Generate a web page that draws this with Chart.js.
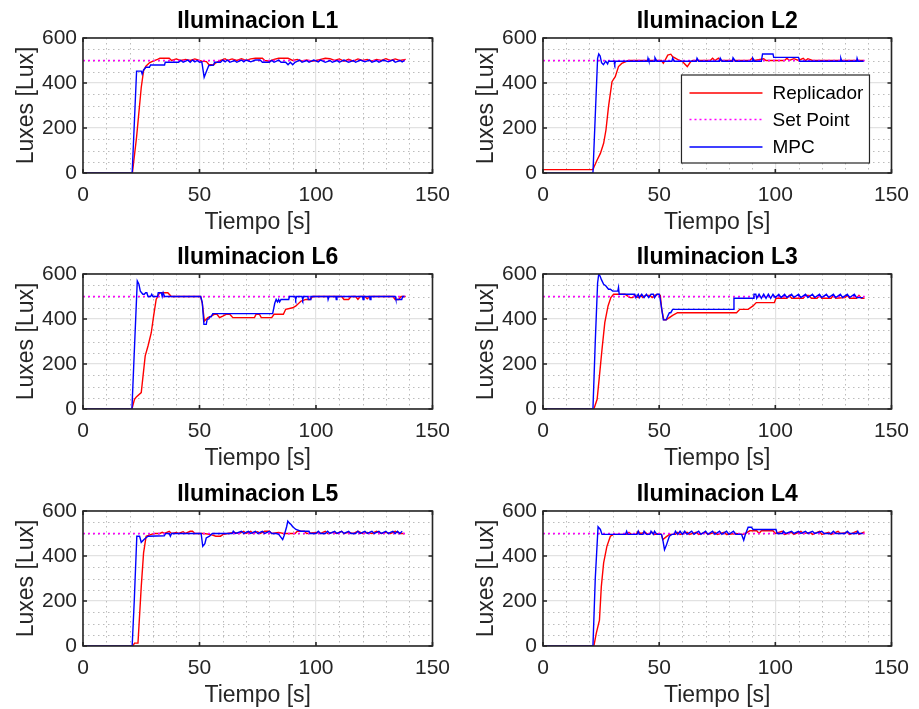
<!DOCTYPE html>
<html>
<head>
<meta charset="utf-8">
<script src="https://cdn.jsdelivr.net/npm/chart.js@4.4.1/dist/chart.umd.min.js"></script>
<style>
  body { margin: 0; background: #fff; }
  #wrap { position: relative; width: 919px; height: 709px; background: #fff; }
  canvas { position: absolute; }
</style>
</head>
<body>
<div id="wrap">
  <canvas id="cL1" width="460" height="236" style="left:0;top:0"></canvas>
  <canvas id="cL2" width="459" height="236" style="left:460px;top:0"></canvas>
  <canvas id="cL6" width="460" height="236" style="left:0;top:236px"></canvas>
  <canvas id="cL3" width="459" height="236" style="left:460px;top:236px"></canvas>
  <canvas id="cL5" width="460" height="236" style="left:0;top:473px"></canvas>
  <canvas id="cL4" width="459" height="236" style="left:460px;top:473px"></canvas>
</div>
<script>
const panelTitles = ['Iluminacion L1', 'Iluminacion L2', 'Iluminacion L6', 'Iluminacion L3', 'Iluminacion L5', 'Iluminacion L4'];
const seriesNames = ['Replicador', 'Set Point', 'MPC'];
const xTickLabels = [0, 50, 100, 150];
const yTickLabels = [0, 200, 400, 600];
const setPoint = [[0, 500], [138.5, 500]];

// [tiempo s, luxes]
const repL1 = [[0,0],[21.2,0],[23,160],[25,380],[26,455],[27,475],[28.5,490],[30,497],[32,505],[33,510],[37,510],[38,500],[40,507],[42,500],[44,505],[46,500],[48,507],[50,500],[51,497],[53,495],[54,482],[56,480],[57,490],[59,500],[61,508],[62,500],[64,507],[66,500],[68,508],[70,500],[72,507],[74,510],[77,510],[78,500],[80,497],[82,505],[84,510],[88,510],[90,500],[92,505],[94,497],[96,502],[98,497],[100,500],[102,505],[104,510],[106,508],[108,500],[110,507],[112,497],[114,505],[116,497],[118,507],[120,500],[122,505],[124,497],[126,505],[128,500],[130,508],[132,500],[134,507],[136,500],[138.5,505]];
const mpcL1 = [[0,0],[21.1,0],[23,453],[25,453],[25.4,440],[26,458],[27,470],[28.5,470],[29,480],[35,480],[35.3,492],[41,492],[42,500],[43,492],[45,502],[46,492],[47,502],[48,494],[49,500],[50,492],[51,494],[52,425],[53,452],[54,478],[56,480],[56.5,492],[59,492],[60,502],[61,494],[62,502],[63,492],[65,500],[66,492],[68,502],[69,494],[70,502],[72,494],[74,502],[76,502],[77,492],[80,492],[81,500],[82,492],[84,502],[85,492],[87,492],[88,481],[89,492],[90,481],[91,492],[93,502],[94,492],[96,500],[97,492],[99,502],[101,494],[102,502],[104,492],[106,500],[107,492],[109,500],[110,492],[112,502],[114,492],[116,500],[117,492],[119,502],[121,494],[123,502],[124,492],[126,500],[127,492],[129,502],[131,494],[133,502],[134,492],[136,500],[137,494],[138,500]];

const repL2 = [[0,15],[21.5,15],[22,28],[23.3,58],[24.7,87],[26.1,132],[27.1,191],[28.2,295],[29.7,406],[31.1,428],[32.5,473],[33.9,487],[36.7,500],[51,500],[51.8,488],[52.5,500],[53.7,524],[55,528],[55.8,517],[57.9,505],[60,495],[62.1,473],[63.6,495],[64.5,500],[72,500],[73,510],[74,500],[75.5,510],[76.5,500],[89,500],[90,510],[91,500],[95,508],[96,500],[104,500],[105,510],[106,500],[108,508],[110,500],[112,510],[113,500],[114,508],[116,500],[138,500]];
const mpcL2 = [[0,0],[21.5,0],[23.5,510],[24,529],[24.6,520],[25.2,490],[26,482],[27,497],[27.8,485],[28.2,497],[30.6,497],[30.9,485],[31.2,497],[45,497],[45.2,510],[45.6,497],[48,497],[48.2,512],[49,497],[55.5,497],[55.8,510],[56.5,497],[66,497],[66.3,510],[67,497],[76,497],[76.3,510],[77,497],[81.5,497],[81.8,512],[82.8,497],[90,497],[90.3,510],[91,497],[94,497],[94.5,529],[99,529],[99.3,514],[110,514],[110.5,497],[128,497],[128.2,510],[128.6,497],[135,497],[135.2,510],[135.6,497],[138,497]];

const repL6 = [[0,0],[21,0],[22.1,43],[23,55],[25,73],[26.7,236],[27.9,280],[29.3,339],[30.3,413],[31.4,487],[32.9,517],[36.4,517],[37.9,500],[50.5,500],[51.2,470],[52.1,391],[53.6,406],[55,413],[56.4,421],[57.5,421],[58.6,406],[60,413],[61.4,421],[63,421],[64.3,406],[66.4,406],[73.6,406],[74.3,421],[75.7,421],[76.5,406],[81,406],[82,421],[86,421],[87,443],[90,450],[91.4,458],[93.6,480],[95.7,487],[97.5,487],[98.6,500],[111,500],[112,487],[114,487],[115,500],[117,500],[118,487],[119,500],[121,500],[122,490],[123,500],[133,500],[134,487],[135.5,487],[136.5,500],[138.5,500]];
const mpcL6 = [[0,0],[21,0],[22,250],[23.3,569],[24,555],[24.6,524],[25.7,510],[26.3,510],[26.9,517],[27.4,517],[27.9,500],[29,500],[29.5,510],[30,500],[32,500],[32.3,517],[33.6,517],[34,500],[34.4,517],[35,500],[50.5,500],[51.2,473],[51.9,376],[52.9,376],[53.3,398],[54,400],[54.5,410],[55,410],[55.7,424],[81.4,424],[82.3,470],[82.9,487],[83.5,476],[84,487],[84.4,476],[85,487],[88.3,487],[88.6,500],[91,500],[91.3,487],[91.7,500],[94,500],[94.3,487],[94.7,500],[96.5,500],[96.7,487],[97.5,487],[97.8,500],[105,500],[105.2,487],[105.6,500],[108.5,500],[108.7,487],[109,500],[120,500],[120.2,487],[120.6,500],[123,500],[123.2,487],[123.6,500],[134,500],[134.3,487],[136.8,487],[137.2,500],[138,500]];

const repL3 = [[0,0],[21.9,0],[23.3,43],[24.3,147],[25.4,265],[26.6,384],[28,458],[29.2,495],[30.4,510],[35.3,510],[36,505],[37.5,495],[38.5,495],[39.5,505],[41,495],[42,505],[43,495],[44,505],[46,505],[47,495],[48,505],[49.5,510],[50.5,505],[51.1,443],[52,396],[53,396],[54.4,406],[55.8,416],[57.9,428],[83.3,428],[84.7,443],[88.3,443],[90.4,458],[91.8,473],[99.6,473],[100.3,492],[105,492],[106,505],[107,492],[112,492],[113,505],[114.5,505],[115.5,492],[118,492],[119,505],[120,492],[124,492],[125,505],[126,492],[130,495],[131,505],[132,492],[135,492],[136,505],[137,492],[138.4,492]];
const mpcL3 = [[0,0],[21.5,0],[22.5,300],[23.5,560],[24,600],[24.6,590],[25.1,576],[26.1,554],[27,548],[28.2,532],[29,532],[30,524],[32.2,524],[32.5,540],[32.8,510],[39.5,510],[40,495],[41,510],[41.5,495],[42.5,510],[43.5,495],[44.5,510],[45.5,495],[46.5,510],[47.5,510],[48,495],[49,510],[50.1,510],[50.8,465],[51.8,396],[53,396],[53.7,413],[54.4,428],[55,428],[55.8,443],[81.9,443],[82.2,492],[90.4,492],[90.8,510],[91.6,510],[92,492],[93,510],[94,492],[95,510],[96,492],[97,510],[98,492],[99,510],[100,495],[101.5,510],[102.5,495],[104,510],[105,495],[107,510],[108,495],[110,510],[111,495],[113,510],[114,495],[116,510],[117,495],[119,510],[120,495],[122,510],[123,495],[125,510],[126,495],[128,510],[129,495],[131,510],[132,495],[134,510],[135,495],[137.7,495]];

const repL5 = [[0,0],[21.4,0],[22.1,13],[23.6,13],[25,264],[26,414],[27.1,488],[29.3,496],[30.7,500],[33,500],[34,505],[35,500],[36,505],[37,510],[38,500],[40,505],[41,500],[43,508],[44,500],[46,510],[47,510],[48,500],[52,500],[55,495],[57,488],[59,488],[60,495],[62,500],[65,505],[67,500],[69,510],[70,500],[72,510],[73,500],[75,508],[76,500],[78,510],[80,510],[81,500],[84,505],[86,500],[91,500],[92,510],[95,510],[96,500],[100,505],[102,500],[104,510],[105,500],[107,505],[109,500],[111,510],[112,500],[114,505],[116,500],[118,510],[120,500],[122,505],[124,500],[126,510],[128,500],[130,505],[132,500],[134,510],[136,500],[138,500]];
const mpcL5 = [[0,0],[21.1,0],[22,200],[23.1,488],[24.3,488],[25,461],[26.4,476],[27.9,488],[34.9,490],[35.5,500],[37,500],[37.5,488],[38,500],[50.7,500],[51.4,443],[52.3,455],[52.9,480],[54.3,488],[55.5,500],[64,500],[64.5,510],[65.5,500],[68,510],[69,500],[71,510],[72,500],[74,510],[75,500],[77,510],[78,500],[80,510],[81,500],[83,500],[84,496],[85.7,473],[86.3,490],[87.4,530],[87.9,555],[88.6,546],[89.3,540],[90,530],[91.4,518],[93.5,510],[97,510],[97.5,500],[100,500],[101,510],[102,500],[104,500],[105,510],[106,500],[108,510],[109,500],[111,510],[112,500],[114,510],[115,500],[117,500],[118,510],[119,500],[121,510],[122,500],[124,510],[125,500],[127,510],[128,500],[130,510],[131,500],[133,510],[134,500],[135,510],[136,500],[137,510]];

const repL4 = [[0,0],[21.9,0],[22.9,55],[24.3,115],[25.1,264],[26.1,369],[27.5,443],[29,488],[30.4,496],[36,496],[37,505],[38,496],[40,496],[41,510],[42,500],[44,505],[45,496],[47,505],[48,496],[50,500],[51,496],[51.6,473],[53,485],[54.4,496],[57,496],[58,505],[59,496],[62,505],[63,496],[66,505],[67,496],[70,505],[71,496],[74,505],[75,496],[78,505],[79,496],[83,500],[86,496],[87,500],[89,512],[92,512],[93,500],[94,512],[99,512],[100,500],[103,510],[104,496],[107,505],[108,496],[111,510],[112,500],[115,505],[116,496],[119,510],[120,496],[123,505],[124,496],[127,510],[128,500],[131,505],[132,496],[135,510],[136,496],[138.4,507]];
const mpcL4 = [[0,0],[21.5,0],[22.5,300],[23.7,530],[24.7,518],[25.4,496],[35.5,496],[36,510],[36.5,496],[40.5,496],[41,510],[41.5,496],[43,496],[43.5,510],[44.5,496],[46,496],[46.5,510],[47.5,496],[48,510],[49,496],[51,496],[51.6,470],[52.3,428],[53,445],[54.4,488],[55.5,496],[56.5,496],[57,510],[58,496],[59,510],[60,496],[61,510],[62,496],[64,510],[65,496],[67,510],[68,496],[70,510],[71,496],[73,510],[74,496],[76,510],[77,496],[79,510],[80,496],[82,510],[83,496],[85.5,496],[86.4,470],[87,492],[88.3,528],[89.7,528],[90.4,518],[100.3,518],[100.8,500],[103,500],[103.5,510],[104.5,500],[107,510],[108,500],[110,510],[111,500],[113,510],[114,500],[116,510],[117,500],[120,510],[121,500],[124,500],[125,510],[126,500],[130,500],[131,510],[132,500],[135,500],[135.5,510],[136,500],[137.6,500]];

const FONT = "'Liberation Sans', Arial, Helvetica, sans-serif";
const AXIS_COLOR = '#262626';

function toPoints(pairs) {
  return pairs.map(p => ({ x: p[0], y: p[1] }));
}

// minor dotted grid, inward ticks and the box, MATLAB style
const matlabAxes = {
  id: 'matlabAxes',
  beforeDatasetsDraw(chart) {
    const { ctx, chartArea: a, scales: { x, y } } = chart;
    ctx.save();
    ctx.strokeStyle = '#bcbcbc';
    ctx.lineWidth = 1;
    ctx.setLineDash([1.5, 3.5]);
    for (let v = 10; v < 150; v += 10) {
      if (xTickLabels.includes(v)) continue;
      const px = Math.round(x.getPixelForValue(v)) + 0.5;
      ctx.beginPath(); ctx.moveTo(px, a.top); ctx.lineTo(px, a.bottom); ctx.stroke();
    }
    for (let v = 50; v < 600; v += 50) {
      if (yTickLabels.includes(v)) continue;
      const py = Math.round(y.getPixelForValue(v)) + 0.5;
      ctx.beginPath(); ctx.moveTo(a.left, py); ctx.lineTo(a.right, py); ctx.stroke();
    }
    ctx.restore();
  },
  afterDatasetsDraw(chart) {
    const { ctx, chartArea: a, scales: { x, y } } = chart;
    ctx.save();
    ctx.strokeStyle = AXIS_COLOR;
    ctx.lineWidth = 1.6;
    ctx.strokeRect(a.left, a.top, a.right - a.left, a.bottom - a.top);
    const len = 4;
    xTickLabels.forEach(v => {
      const px = x.getPixelForValue(v);
      ctx.beginPath();
      ctx.moveTo(px, a.bottom); ctx.lineTo(px, a.bottom - len);
      ctx.moveTo(px, a.top); ctx.lineTo(px, a.top + len);
      ctx.stroke();
    });
    yTickLabels.forEach(v => {
      const py = y.getPixelForValue(v);
      ctx.beginPath();
      ctx.moveTo(a.left, py); ctx.lineTo(a.left + len, py);
      ctx.moveTo(a.right, py); ctx.lineTo(a.right - len, py);
      ctx.stroke();
    });
    ctx.restore();
  }
};

// legend box inside the plot (only used on L2)
const insideLegend = {
  id: 'insideLegend',
  afterDraw(chart, args, opts) {
    if (!opts.show) return;
    const { ctx, chartArea: a } = chart;
    const w = 188, h = 88;
    const left = a.right - 22 - w;
    const top = a.top + 37;
    ctx.save();
    ctx.fillStyle = '#fff';
    ctx.fillRect(left, top, w, h);
    ctx.strokeStyle = AXIS_COLOR;
    ctx.lineWidth = 1.2;
    ctx.strokeRect(left, top, w, h);
    ctx.font = '19px ' + FONT;
    ctx.textBaseline = 'middle';
    ctx.textAlign = 'left';
    const rows = [18, 44.5, 72];
    chart.data.datasets.forEach((ds, i) => {
      const yy = top + rows[i];
      ctx.strokeStyle = ds.borderColor;
      ctx.lineWidth = 1.3;
      ctx.setLineDash(ds.borderDash || []);
      ctx.beginPath(); ctx.moveTo(left + 8, yy); ctx.lineTo(left + 81, yy); ctx.stroke();
      ctx.setLineDash([]);
      ctx.fillStyle = '#000';
      ctx.fillText(ds.label, left + 91, yy + 1);
    });
    ctx.restore();
  }
};

function makePanel(canvasId, title, rep, mpc, rightPad, showLegend) {
  const ctx = document.getElementById(canvasId).getContext('2d');
  return new Chart(ctx, {
    type: 'line',
    data: {
      datasets: [
        { label: seriesNames[0], data: toPoints(rep), borderColor: '#ff0000', borderWidth: 1.4, order: 2 },
        { label: seriesNames[1], data: toPoints(setPoint), borderColor: '#ff00ff', borderWidth: 1.3, borderDash: [2, 3], order: 1 },
        { label: seriesNames[2], data: toPoints(mpc), borderColor: '#0000ff', borderWidth: 1.4, order: 0 }
      ]
    },
    options: {
      responsive: false,
      animation: false,
      layout: { padding: { left: 0, right: rightPad, top: 0, bottom: 0 } },
      elements: { point: { radius: 0 }, line: { tension: 0 } },
      plugins: {
        legend: { display: false },
        tooltip: { enabled: false },
        title: {
          display: true,
          text: title,
          fullSize: false,
          color: '#000',
          font: { family: FONT, size: 23, weight: 'bold' },
          padding: { top: 8, bottom: 2.4 }
        },
        insideLegend: { show: showLegend }
      },
      scales: {
        x: {
          type: 'linear',
          min: 0, max: 150,
          afterFit: s => { s.height = 63; },
          afterBuildTicks: s => { s.ticks = xTickLabels.map(v => ({ value: v })); },
          ticks: { color: AXIS_COLOR, padding: 10, font: { family: FONT, size: 21 }, maxRotation: 0 },
          grid: { color: '#e2e2e2', lineWidth: 1.2, drawTicks: false },
          border: { display: false },
          title: { display: true, text: 'Tiempo [s]', color: AXIS_COLOR, font: { family: FONT, size: 23 }, padding: { top: 0, bottom: 0 } }
        },
        y: {
          min: 0, max: 600,
          afterFit: s => { s.width = 83; },
          afterBuildTicks: s => { s.ticks = yTickLabels.map(v => ({ value: v })); },
          ticks: { color: AXIS_COLOR, padding: 6, font: { family: FONT, size: 21 } },
          grid: { color: '#e2e2e2', lineWidth: 1.2, drawTicks: false },
          border: { display: false },
          title: { display: true, text: 'Luxes [Lux]', color: AXIS_COLOR, font: { family: FONT, size: 23 }, padding: { top: 13, bottom: 0 } }
        }
      }
    },
    plugins: [matlabAxes, insideLegend]
  });
}

makePanel('cL1', panelTitles[0], repL1, mpcL1, 26, false);
makePanel('cL2', panelTitles[1], repL2, mpcL2, 22, true);
makePanel('cL6', panelTitles[2], repL6, mpcL6, 26, false);
makePanel('cL3', panelTitles[3], repL3, mpcL3, 22, false);
makePanel('cL5', panelTitles[4], repL5, mpcL5, 26, false);
makePanel('cL4', panelTitles[5], repL4, mpcL4, 22, false);
</script>
</body>
</html>
